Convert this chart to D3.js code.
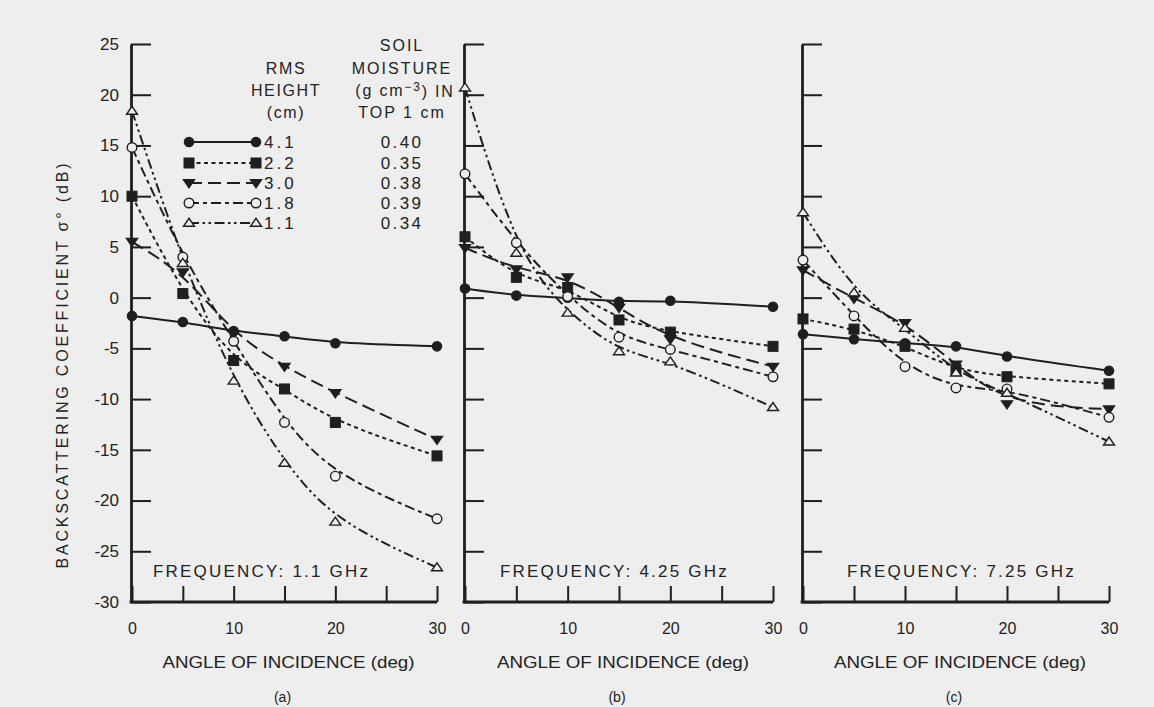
<!DOCTYPE html>
<html>
<head>
<meta charset="utf-8">
<script src="https://cdn.jsdelivr.net/npm/d3@7"></script>
<style>
  html, body { margin: 0; padding: 0; background: #eeeeee; }
  svg { display: block; }
  text { font-family: "Liberation Sans", Arial, Helvetica, sans-serif; fill: #222; }
</style>
</head>
<body>
<svg id="chart" width="1154" height="707"></svg>
<script>
// Incidence angles at which σ° was measured (deg)
const angles = [0, 5, 10, 15, 20, 30];

// Surface roughness classes and their soil moisture
const rmsHeights = ["4.1", "2.2", "3.0", "1.8", "1.1"];
const soilMoisture = ["0.40", "0.35", "0.38", "0.39", "0.34"];

// Backscattering coefficient σ° (dB), one row per roughness class, 1.1 GHz
const sigma1p1GHz = [
  [-1.8, -2.4, -3.3, -3.8, -4.5, -4.8],
  [10.0, 0.4, -6.2, -9.0, -12.3, -15.6],
  [5.5, 2.5, -3.6, -6.8, -9.4, -14.0],
  [14.8, 4.0, -4.3, -12.3, -17.6, -21.8],
  [18.4, 3.4, -8.2, -16.3, -22.1, -26.6]
];
// 4.25 GHz
const sigma4p25GHz = [
  [0.9, 0.2, 0.0, -0.4, -0.3, -0.9],
  [6.0, 2.0, 1.0, -2.2, -3.4, -4.8],
  [4.9, 2.8, 2.0, -1.0, -4.1, -6.8],
  [12.2, 5.4, 0.1, -3.9, -5.1, -7.8],
  [20.7, 4.4, -1.5, -5.3, -6.3, -10.8]
];
// 7.25 GHz
const sigma7p25GHz = [
  [-3.6, -4.1, -4.5, -4.8, -5.8, -7.2],
  [-2.1, -3.1, -4.8, -7.1, -7.8, -8.5],
  [2.7, -0.1, -2.5, -6.6, -10.5, -11.0],
  [3.7, -1.8, -6.8, -8.9, -9.0, -11.8],
  [8.4, 0.5, -3.0, -7.4, -9.4, -14.2]
];

const frequencies = ["FREQUENCY: 1.1 GHz", "FREQUENCY: 4.25 GHz", "FREQUENCY: 7.25 GHz"];
const panelLetters = ["(a)", "(b)", "(c)"];
const yTickValues = [25, 20, 15, 10, 5, 0, -5, -10, -15, -20, -25, -30];
const xTickValues = [0, 5, 10, 15, 20, 25, 30];
const xTickLabels = [0, 10, 20, 30];

const panels = [
  { data: sigma1p1GHz, freq: frequencies[0], letter: panelLetters[0], left: 132, right: 437, showY: true, capX: 21 },
  { data: sigma4p25GHz, freq: frequencies[1], letter: panelLetters[1], left: 465, right: 773, showY: false, capX: 35 },
  { data: sigma7p25GHz, freq: frequencies[2], letter: panelLetters[2], left: 803, right: 1109, showY: false, capX: 44 }
];

// Marker and dash style per roughness class
const styles = [
  { marker: "circle", filled: true, dash: null },
  { marker: "square", filled: true, dash: "4,3.5" },
  { marker: "tridown", filled: true, dash: "13,6" },
  { marker: "circle", filled: false, dash: "10,4,4,4" },
  { marker: "triup", filled: false, dash: "10,3.5,2.5,3.5,2.5,3.5" }
];

const ink = "#1f1f1f";
const bg = "#eeeeee";
const svg = d3.select("#chart");

const y = d3.scaleLinear().domain([-30, 25]).range([602, 44]);

function drawMarker(g, type, filled, cx, cy) {
  const fill = filled ? ink : bg;
  if (type === "circle") {
    g.append("circle").attr("cx", cx).attr("cy", cy).attr("r", filled ? 4.6 : 4.8)
      .attr("fill", fill).attr("stroke", ink).attr("stroke-width", 1.4);
  } else if (type === "square") {
    g.append("rect").attr("x", cx - 5).attr("y", cy - 5).attr("width", 10).attr("height", 10)
      .attr("fill", fill).attr("stroke", ink).attr("stroke-width", 1);
  } else {
    const s = 5.5;
    const pts = type === "tridown"
      ? [[cx - s, cy - s * 0.6], [cx + s, cy - s * 0.6], [cx, cy + s * 0.85]]
      : [[cx - s, cy + s * 0.6], [cx + s, cy + s * 0.6], [cx, cy - s * 0.85]];
    g.append("path").attr("d", "M" + pts.map(p => p.join(",")).join("L") + "Z")
      .attr("fill", fill).attr("stroke", ink).attr("stroke-width", 1.4);
  }
}

panels.forEach(p => {
  const x = d3.scaleLinear().domain([0, 30]).range([p.left, p.right]);
  const g = svg.append("g");

  // left axis with inward ticks
  const yAxis = d3.axisLeft(y).tickValues(yTickValues).tickSize(-20).tickSizeOuter(0)
    .tickPadding(12)
    .tickFormat(d => p.showY ? (d < 0 ? "-" + Math.abs(d) : d) : "");
  const ya = g.append("g").attr("transform", `translate(${p.left - 1},0)`).call(yAxis);
  ya.select(".domain").attr("stroke", ink).attr("stroke-width", 2.8);
  ya.selectAll(".tick line").attr("stroke", ink).attr("stroke-width", 2);
  ya.selectAll(".tick text").attr("font-size", 17).attr("fill", "#2a2a2a")
    .attr("font-family", "Liberation Sans, Arial, sans-serif");

  // bottom axis with inward ticks
  const xAxis = d3.axisBottom(x).tickValues(xTickValues).tickSize(-16).tickSizeOuter(0)
    .tickPadding(21)
    .tickFormat(d => xTickLabels.includes(d) ? d : "");
  const xa = g.append("g").attr("transform", `translate(0,${y(-30)})`).call(xAxis);
  xa.select(".domain").attr("stroke", ink).attr("stroke-width", 2.8)
    .attr("d", `M${p.left - 2.4},0H${p.right}`);
  xa.selectAll(".tick line").attr("stroke", ink).attr("stroke-width", 2);
  xa.selectAll(".tick text").attr("font-size", 16).attr("fill", "#2a2a2a")
    .attr("font-family", "Liberation Sans, Arial, sans-serif");

  // series curves and markers
  const line = d3.line().x((d, i) => x(angles[i])).y(d => y(d)).curve(d3.curveBasis);
  p.data.forEach((vals, si) => {
    const st = styles[si];
    g.append("path").datum(vals).attr("d", line)
      .attr("fill", "none").attr("stroke", ink).attr("stroke-width", 2)
      .attr("stroke-dasharray", st.dash);
  });
  p.data.forEach((vals, si) => {
    const st = styles[si];
    vals.forEach((v, i) => drawMarker(g, st.marker, st.filled, x(angles[i]), y(v)));
  });

  // frequency caption inside plot
  g.append("text").attr("x", p.left + p.capX).attr("y", 571).attr("dy", "0.35em")
    .attr("font-size", 17).attr("letter-spacing", 2.2).text(p.freq);

  // x-axis title and panel letter
  const mid = (p.left + p.right) / 2;
  g.append("text").attr("x", mid + 4).attr("y", 662).attr("dy", "0.35em")
    .attr("text-anchor", "middle").attr("font-size", 17)
    .attr("textLength", 252).attr("lengthAdjust", "spacingAndGlyphs")
    .text("ANGLE OF INCIDENCE (deg)");
  g.append("text").attr("x", mid - 2).attr("y", 697).attr("dy", "0.35em")
    .attr("text-anchor", "middle").attr("font-size", 14).text(p.letter);
});

// y-axis title
svg.append("text")
  .attr("transform", "translate(62,366) rotate(-90)")
  .attr("text-anchor", "middle").attr("dy", "0.35em")
  .attr("font-size", 16).attr("textLength", 405).attr("lengthAdjust", "spacing")
  .text("BACKSCATTERING COEFFICIENT \u03c3\u00b0 (dB)");

// legend
const legend = svg.append("g");
const headRms = ["RMS", "HEIGHT", "(cm)"];
const headSoil = ["SOIL", "MOISTURE", null, "TOP 1 cm"];
const headY = [68, 90, 112];
headRms.forEach((t, i) => legend.append("text").attr("x", 286).attr("y", headY[i]).attr("dy", "0.35em")
  .attr("text-anchor", "middle").attr("font-size", 16).attr("letter-spacing", 1.6).text(t));
const soilY = [45, 68, 90, 112];
headSoil.forEach((t, i) => {
  if (t === null) {
    const tx = legend.append("text").attr("x", 405).attr("y", soilY[i]).attr("dy", "0.35em")
      .attr("text-anchor", "middle").attr("font-size", 16).attr("letter-spacing", 1.8);
    tx.append("tspan").text("(g cm");
    tx.append("tspan").attr("dy", "-0.4em").attr("font-size", 12).text("\u22123");
    tx.append("tspan").attr("dy", "0.4em").text(") IN");
  } else {
    legend.append("text").attr("x", 402).attr("y", soilY[i]).attr("dy", "0.35em")
      .attr("text-anchor", "middle").attr("font-size", 16).attr("letter-spacing", 2).text(t);
  }
});
const rowY = [142, 163, 183, 203, 223];
rmsHeights.forEach((h, i) => {
  const st = styles[i];
  legend.append("line").attr("x1", 189).attr("x2", 256).attr("y1", rowY[i]).attr("y2", rowY[i])
    .attr("stroke", ink).attr("stroke-width", 2).attr("stroke-dasharray", st.dash);
  drawMarker(legend, st.marker, st.filled, 189, rowY[i]);
  drawMarker(legend, st.marker, st.filled, 256, rowY[i]);
  legend.append("text").attr("x", 264).attr("y", rowY[i]).attr("dy", "0.36em")
    .attr("font-size", 17).attr("letter-spacing", 3).text(h);
  legend.append("text").attr("x", 402).attr("y", rowY[i]).attr("dy", "0.36em")
    .attr("text-anchor", "middle").attr("font-size", 17).attr("letter-spacing", 2.4).text(soilMoisture[i]);
});
</script>
</body>
</html>
